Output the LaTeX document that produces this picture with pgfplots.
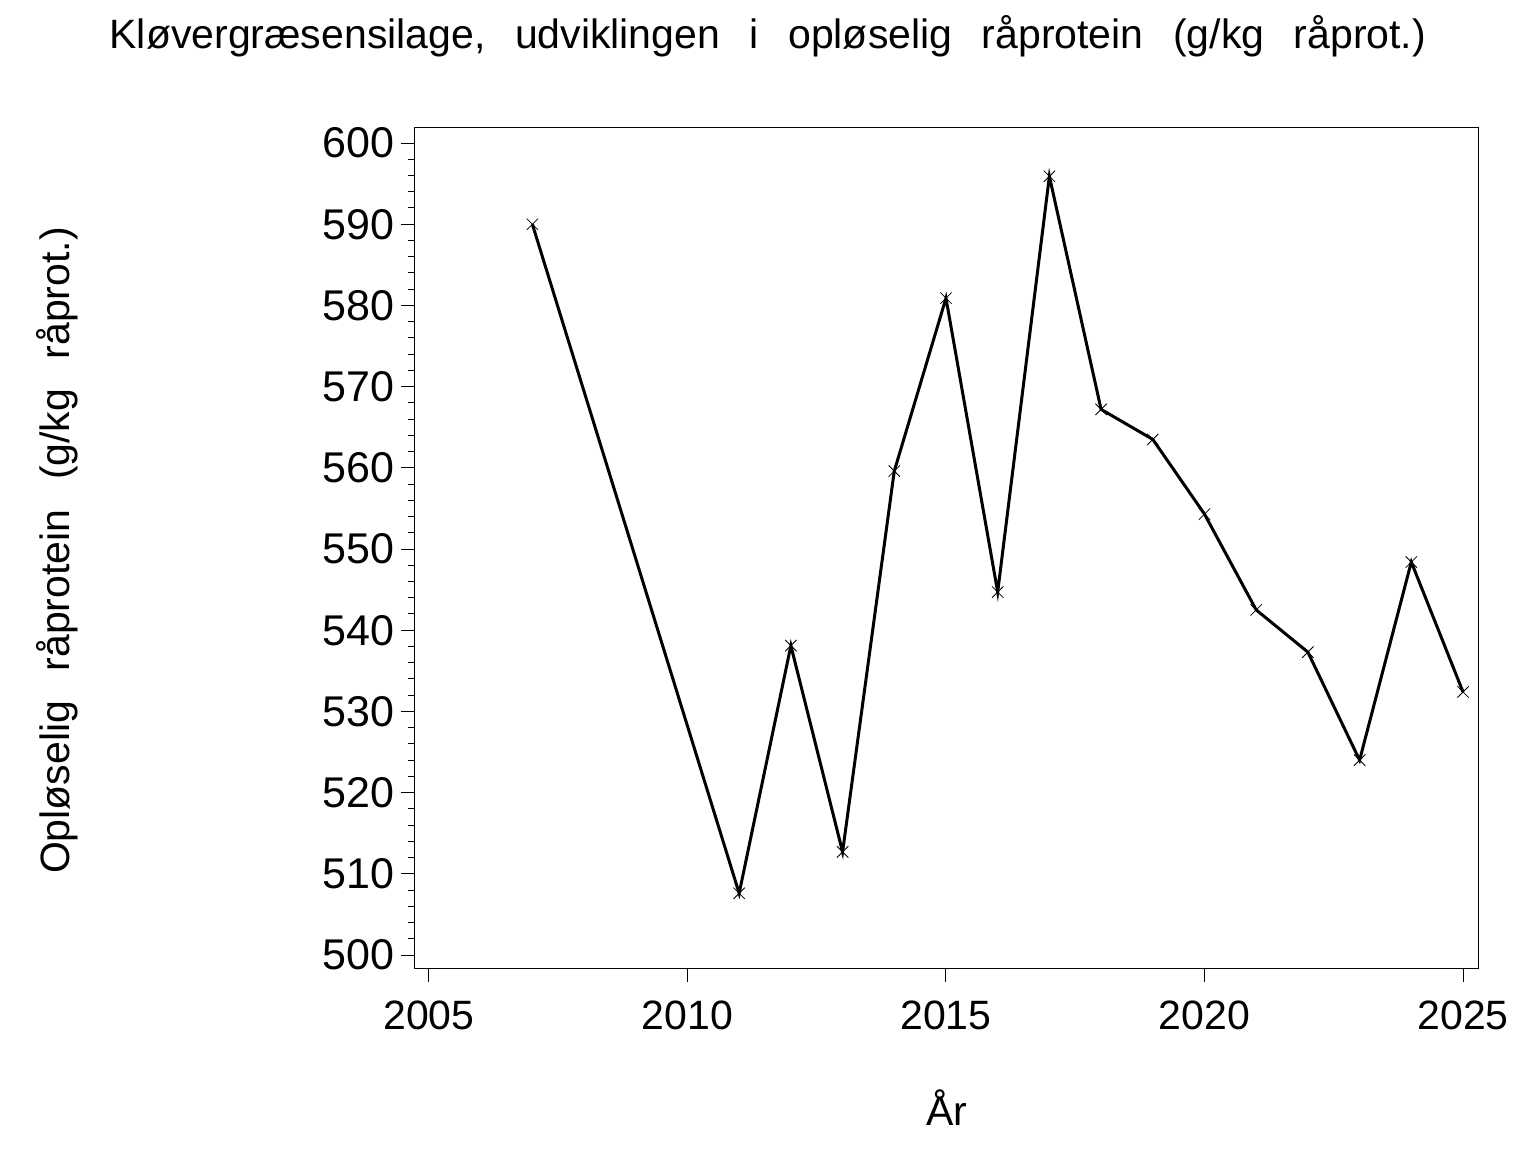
\documentclass[border=0pt]{standalone}
\usepackage{pgfplots}
\pgfplotsset{compat=1.18}
\usepackage{fontspec}
\setmainfont{Liberation Sans}
\newcommand{\wsp}{\hspace{0.72em}}

\begin{document}
\begin{tikzpicture}
\path[use as bounding box] (-207.5pt,-92pt) rectangle (560.5pt,484pt);
\begin{axis}[
    scale only axis,
    width=531.5pt, height=420pt,
    at={(0,0)}, anchor=south west,
    xmin=2004.73, xmax=2025.29,
    ymin=498.4, ymax=601.85,
    xtick={2005,2010,...,2025},
    ytick={500,510,...,600},
    minor y tick num=4,
    xtick pos=bottom, ytick pos=left,
    tick align=outside,
    major tick length=6.8pt,
    minor tick length=3.5pt,
    axis line style={line width=0.5pt},
    every tick/.style={black, line width=0.5pt},
    xticklabel style={font=\fontsize{20.5}{24}\selectfont, yshift=-6pt},
    yticklabel style={font=\fontsize{21.5}{25}\selectfont},
    /pgf/number format/1000 sep={},
    /pgf/number format/assume math mode=true,
    clip=false,
]
\addplot[black, line width=1.5pt, mark=x, mark size=4pt,
         mark options={line width=0.4pt}] coordinates {
    (2007, 590.0)
    (2011, 507.6)
    (2012, 538.1)
    (2013, 512.7)
    (2014, 559.6)
    (2015, 580.9)
    (2016, 544.7)
    (2017, 595.9)
    (2018, 567.2)
    (2019, 563.5)
    (2020, 554.3)
    (2021, 542.5)
    (2022, 537.3)
    (2023, 524.0)
    (2024, 548.4)
    (2025, 532.4)
};
\node[anchor=base, font=\fontsize{20.5}{24}\selectfont, inner sep=0pt]
    at (axis description cs:0.332,1.095)
    {Kløvergræsensilage,\wsp udviklingen\wsp i\wsp opløselig\wsp råprotein\wsp (g/kg\wsp råprot.)};
\node[anchor=base, rotate=90, font=\fontsize{20.5}{24}\selectfont, inner sep=0pt]
    at (axis description cs:-0.3246,0.497)
    {Opløselig\wsp råprotein\wsp (g/kg\wsp råprot.)};
\node[anchor=base, font=\fontsize{20.5}{24}\selectfont, inner sep=0pt]
    at (axis description cs:0.5,-0.188) {År};
\end{axis}
\end{tikzpicture}
\end{document}
